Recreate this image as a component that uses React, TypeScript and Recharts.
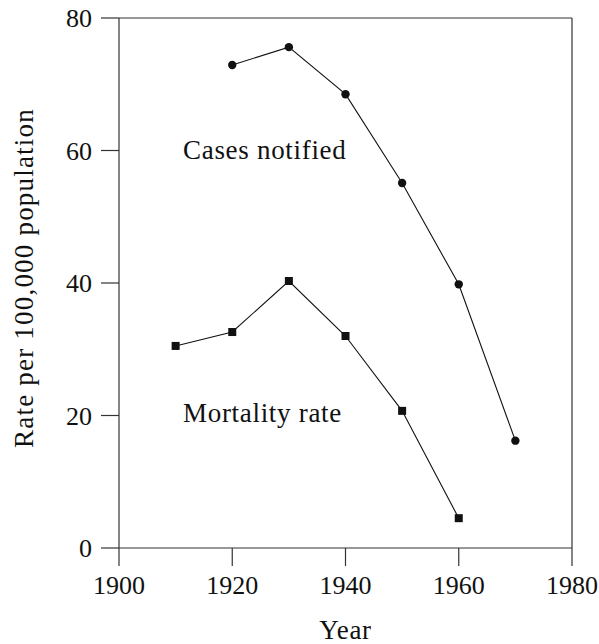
import React from 'react';
import {
  LineChart,
  Line,
  XAxis,
  YAxis,
  ReferenceLine,
  ReferenceDot,
} from 'recharts';

// Axis ticks
const yearTicks = [1900, 1920, 1940, 1960, 1980];
const rateTicks = [0, 20, 40, 60, 80];

// Cases notified (per 100,000)
const caseYears = [1920, 1930, 1940, 1950, 1960, 1970];
const caseRates = [72.9, 75.6, 68.5, 55.1, 39.8, 16.2];

// Mortality rate (per 100,000)
const mortYears = [1910, 1920, 1930, 1940, 1950, 1960];
const mortRates = [30.5, 32.6, 40.3, 32.0, 20.7, 4.5];

const FONT = "'Liberation Serif', serif";
const INK = '#111';
const AXIS = '#333';
const tickStyle = { fontFamily: FONT, fontSize: 26 };
const labelStyle = { fontFamily: FONT, fontSize: 27 };

const caseData = caseYears.map((year, i) => ({ year, rate: caseRates[i] }));
const mortData = mortYears.map((year, i) => ({ year, rate: mortRates[i] }));

const SquareDot = (props: any) => {
  const { cx, cy } = props;
  if (cx == null || cy == null) return null;
  return <rect x={cx - 4} y={cy - 4} width={8} height={8} fill={INK} />;
};

const RoundDot = (props: any) => {
  const { cx, cy } = props;
  if (cx == null || cy == null) return null;
  return <circle cx={cx} cy={cy} r={4.2} fill={INK} />;
};

const noteShape = (text: string) => (props: any) => (
  <text x={props.cx} y={props.cy} fill={INK} style={{ ...labelStyle, letterSpacing: 0.7 }} textAnchor="start">
    {text}
  </text>
);

export default function App() {
  return (
    <div style={{ position: 'absolute', left: 0, top: 0, width: 599, height: 644, background: '#fff', fontFamily: FONT }}>
      <LineChart
        width={599}
        height={644}
        margin={{ top: 18, right: 27, bottom: 0, left: 0 }}
        style={{ fontFamily: FONT }}
      >
        <XAxis
          type="number"
          dataKey="year"
          domain={[1900, 1980]}
          ticks={yearTicks}
          allowDataOverflow
          height={96}
          tickSize={18}
          tickMargin={10}
          stroke={AXIS}
          strokeWidth={1.2}
          tick={{ fill: INK, style: tickStyle }}
          label={{
            content: (p: any) => {
              const vb = p.viewBox;
              return (
                <text x={vb.x + vb.width / 2} y={vb.y + 91} textAnchor="middle" fill={INK} style={{ ...labelStyle, letterSpacing: 0.7 }}>
                  Year
                </text>
              );
            },
          }}
        />
        <YAxis
          type="number"
          domain={[0, 80]}
          ticks={rateTicks}
          width={119}
          tickSize={18}
          tickMargin={9}
          stroke={AXIS}
          strokeWidth={1.2}
          tick={{ fill: INK, style: tickStyle }}
          label={{
            content: (p: any) => {
              const vb = p.viewBox;
              return (
                <text
                  transform={`translate(${vb.x + 33},${vb.y + vb.height / 2 - 5}) rotate(-90)`}
                  textAnchor="middle"
                  fill={INK}
                  style={{ ...labelStyle, letterSpacing: 1.2 }}
                >
                  Rate per 100,000 population
                </text>
              );
            },
          }}
        />
        <ReferenceLine y={80} stroke={AXIS} strokeWidth={1.2} />
        <ReferenceLine x={1980} stroke={AXIS} strokeWidth={1.2} />
        <Line
          data={caseData}
          dataKey="rate"
          type="linear"
          stroke={INK}
          strokeWidth={1.1}
          dot={<RoundDot />}
          activeDot={false}
          isAnimationActive={false}
        />
        <Line
          data={mortData}
          dataKey="rate"
          type="linear"
          stroke={INK}
          strokeWidth={1.1}
          dot={<SquareDot />}
          activeDot={false}
          isAnimationActive={false}
        />
        <ReferenceDot x={1911.3} y={58.7} r={0} shape={noteShape('Cases notified')} />
        <ReferenceDot x={1911.3} y={19.0} r={0} shape={noteShape('Mortality rate')} />
      </LineChart>
    </div>
  );
}
